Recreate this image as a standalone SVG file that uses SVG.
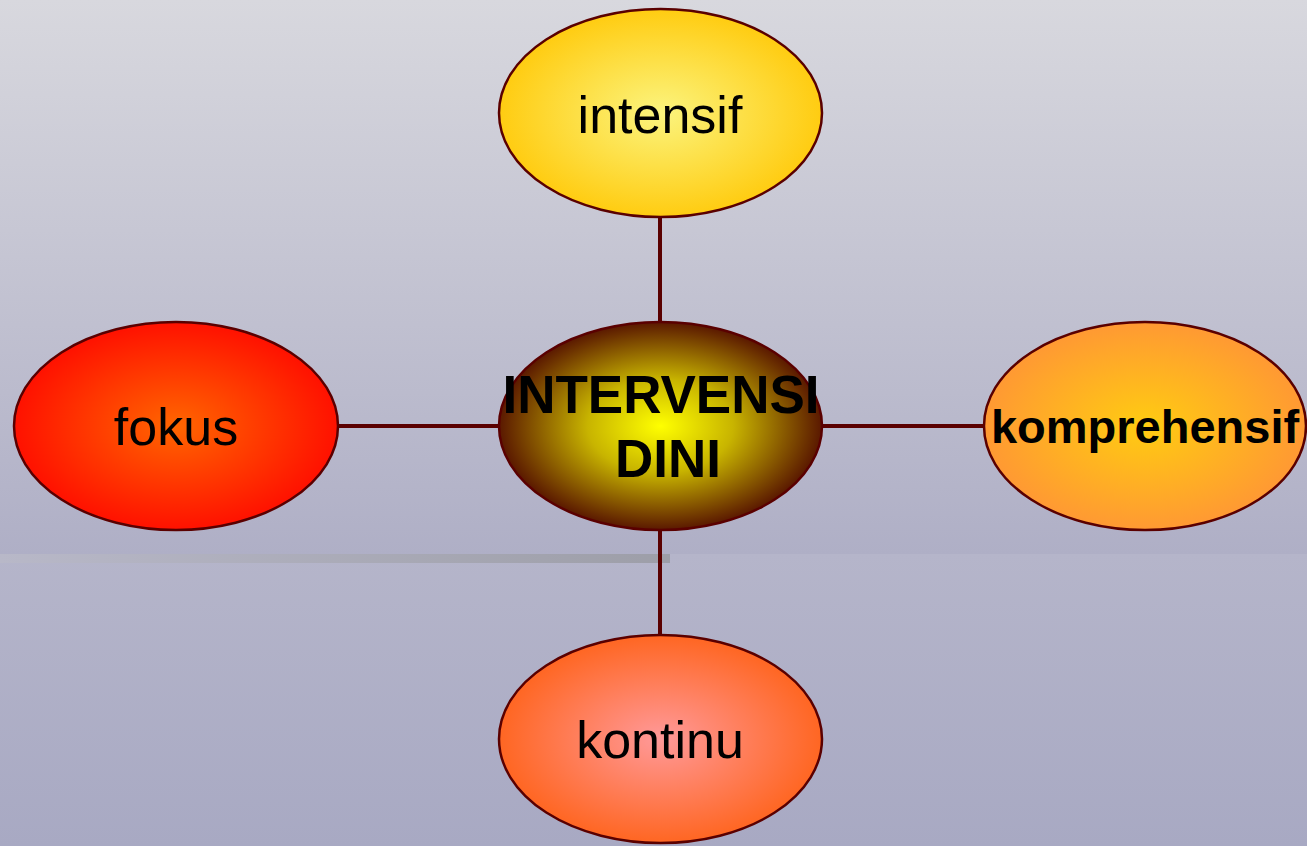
<svg xmlns="http://www.w3.org/2000/svg" width="1307" height="846" viewBox="0 0 1307 846">
<defs>
<linearGradient id="bg1" x1="0" y1="0" x2="0" y2="1"><stop offset="0" stop-color="#d8d8de"/><stop offset="1" stop-color="#afafc6"/></linearGradient>
<linearGradient id="bg2" x1="0" y1="0" x2="0" y2="1"><stop offset="0" stop-color="#b5b5ca"/><stop offset="1" stop-color="#a8a9c3"/></linearGradient>
<linearGradient id="shadow" x1="0" y1="0" x2="1" y2="0"><stop offset="0" stop-color="#b8b8c8"/><stop offset="1" stop-color="#9d9ea8"/></linearGradient>
<radialGradient id="gTop"><stop offset="0" stop-color="#fbf47e"/><stop offset="1" stop-color="#ffcc11"/></radialGradient>
<radialGradient id="gLeft"><stop offset="0" stop-color="#ff6600"/><stop offset="1" stop-color="#ff1100"/></radialGradient>
<radialGradient id="gRight"><stop offset="0" stop-color="#ffcc11"/><stop offset="1" stop-color="#ff9933"/></radialGradient>
<radialGradient id="gBottom"><stop offset="0" stop-color="#ff9999"/><stop offset="1" stop-color="#ff6622"/></radialGradient>
<radialGradient id="gCenter"><stop offset="0" stop-color="#ffff00"/><stop offset="0.45" stop-color="#c8b400"/><stop offset="1" stop-color="#5a1800"/></radialGradient>
</defs>
<style>
.node ellipse{stroke:#5a0000;stroke-width:2.5}
.conn line{stroke:#5a0000;stroke-width:4}
.t{font-family:"Liberation Sans",Arial,sans-serif;fill:#000;text-anchor:middle}
.n{font-size:52px}
.b{font-size:53px;font-weight:bold}
.bk{font-size:47px;font-weight:bold}
</style>
<rect x="0" y="0" width="1307" height="554" fill="url(#bg1)"/>
<rect x="0" y="554" width="1307" height="292" fill="url(#bg2)"/>
<rect x="0" y="554" width="670" height="9" fill="url(#shadow)"/>
<g id="connectors" class="conn">
<line x1="660" y1="217" x2="660" y2="322"/>
<line x1="660" y1="530" x2="660" y2="634"/>
<line x1="338" y1="426" x2="499" y2="426"/>
<line x1="822" y1="426" x2="984" y2="426"/>
</g>
<g id="intensif" class="node"><ellipse cx="660.5" cy="113" rx="161.5" ry="104" fill="url(#gTop)"/><text class="t n" x="660" y="133">intensif</text></g>
<g id="fokus" class="node"><ellipse cx="176" cy="426" rx="162" ry="104" fill="url(#gLeft)"/><text class="t n" x="176" y="445">fokus</text></g>
<g id="komprehensif" class="node"><ellipse cx="1145" cy="426" rx="161" ry="104" fill="url(#gRight)"/><text class="t bk" x="1145" y="443">komprehensif</text></g>
<g id="kontinu" class="node"><ellipse cx="660.5" cy="739" rx="161.5" ry="104" fill="url(#gBottom)"/><text class="t n" x="660" y="758">kontinu</text></g>
<g id="intervensi-dini" class="node"><ellipse cx="660.5" cy="426" rx="161.5" ry="104" fill="url(#gCenter)"/><text class="t b" x="661" y="413">INTERVENSI</text><text class="t b" x="668" y="477">DINI</text></g>
</svg>
